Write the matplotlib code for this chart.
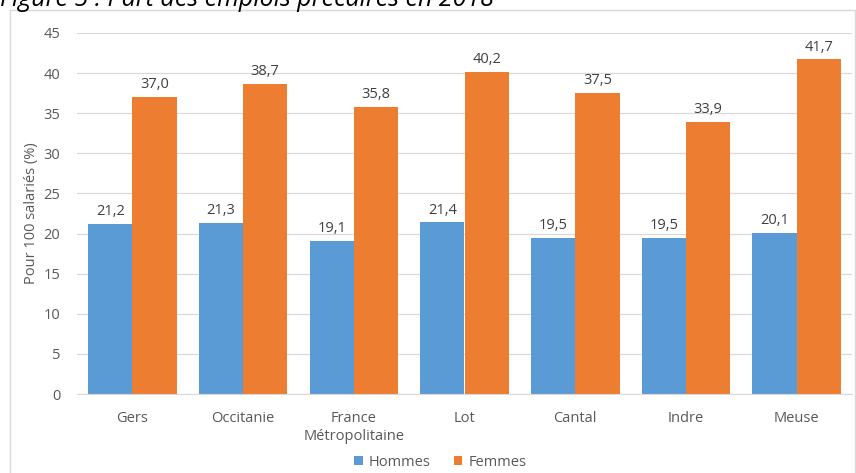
import matplotlib.pyplot as plt
import matplotlib.patches as mpatches
import numpy as np

# Part des emplois précaires en 2018, pour 100 salariés
territoires = ["Gers", "Occitanie", "France\nMétropolitaine", "Lot", "Cantal", "Indre", "Meuse"]
hommes = [21.2, 21.3, 19.1, 21.4, 19.5, 19.5, 20.1]
femmes = [37.0, 38.7, 35.8, 40.2, 37.5, 33.9, 41.7]

plt.rcParams["font.family"] = ["Open Sans", "DejaVu Sans"]

fig = plt.figure(figsize=(8.56, 4.73), dpi=100)
ax = fig.add_axes([77 / 856, 1 - 394 / 473, 775 / 856, 361 / 473])

x = np.arange(len(territoires))
w = 0.4
b1 = ax.bar(x - w / 2, hommes, w, color="#5B9BD5", label="Hommes", zorder=2)
b2 = ax.bar(x + w / 2, femmes, w, color="#ED7D31", label="Femmes", zorder=2)

for bars, vals in ((b1, hommes), (b2, femmes)):
    for r, v in zip(bars, vals):
        ax.text(r.get_x() + r.get_width() / 2, v + 0.6, f"{v:.1f}".replace(".", ","),
                ha="center", va="bottom", fontsize=10.5, color="#404040")

ax.set_xlim(-0.5, len(territoires) - 0.5)
ax.set_ylim(0, 45)
ax.set_yticks(range(0, 46, 5))
ax.set_xticks(x)
ax.set_xticklabels(territoires, linespacing=1.3)
ax.tick_params(axis="both", length=0, labelsize=10.5, labelcolor="#595959")
ax.tick_params(axis="x", pad=12)
ax.tick_params(axis="y", pad=12)
ax.grid(axis="y", color="#D9D9D9", linewidth=0.9, zorder=0)
for s in ["top", "right", "left"]:
    ax.spines[s].set_visible(False)
ax.spines["bottom"].set_color("#D9D9D9")
ax.set_ylabel("Pour 100 salariés (%)", fontsize=10.5, color="#595959", labelpad=3)

fig.legend(handles=[b1, b2], loc="center", bbox_to_anchor=(440 / 856, 1 - 462 / 473),
           ncol=2, frameon=False, fontsize=10.5, handlelength=0.6, handleheight=0.6,
           handletextpad=0.4, columnspacing=1.6, labelcolor="#595959")

# cadre du graphique et titre coupé en haut
fig.patches.append(mpatches.Rectangle((10 / 856, -0.05), 845 / 856, 1.05 - 10 / 473,
                                      transform=fig.transFigure, fill=False,
                                      edgecolor="#D9D9D9", linewidth=1))
fig.text(0.0, 1 - 6 / 473, "Figure 5 : Part des emplois précaires en 2018", fontsize=18,
         style="italic", color="#000000", ha="left", va="baseline")

fig.savefig("out.png", dpi=100)
